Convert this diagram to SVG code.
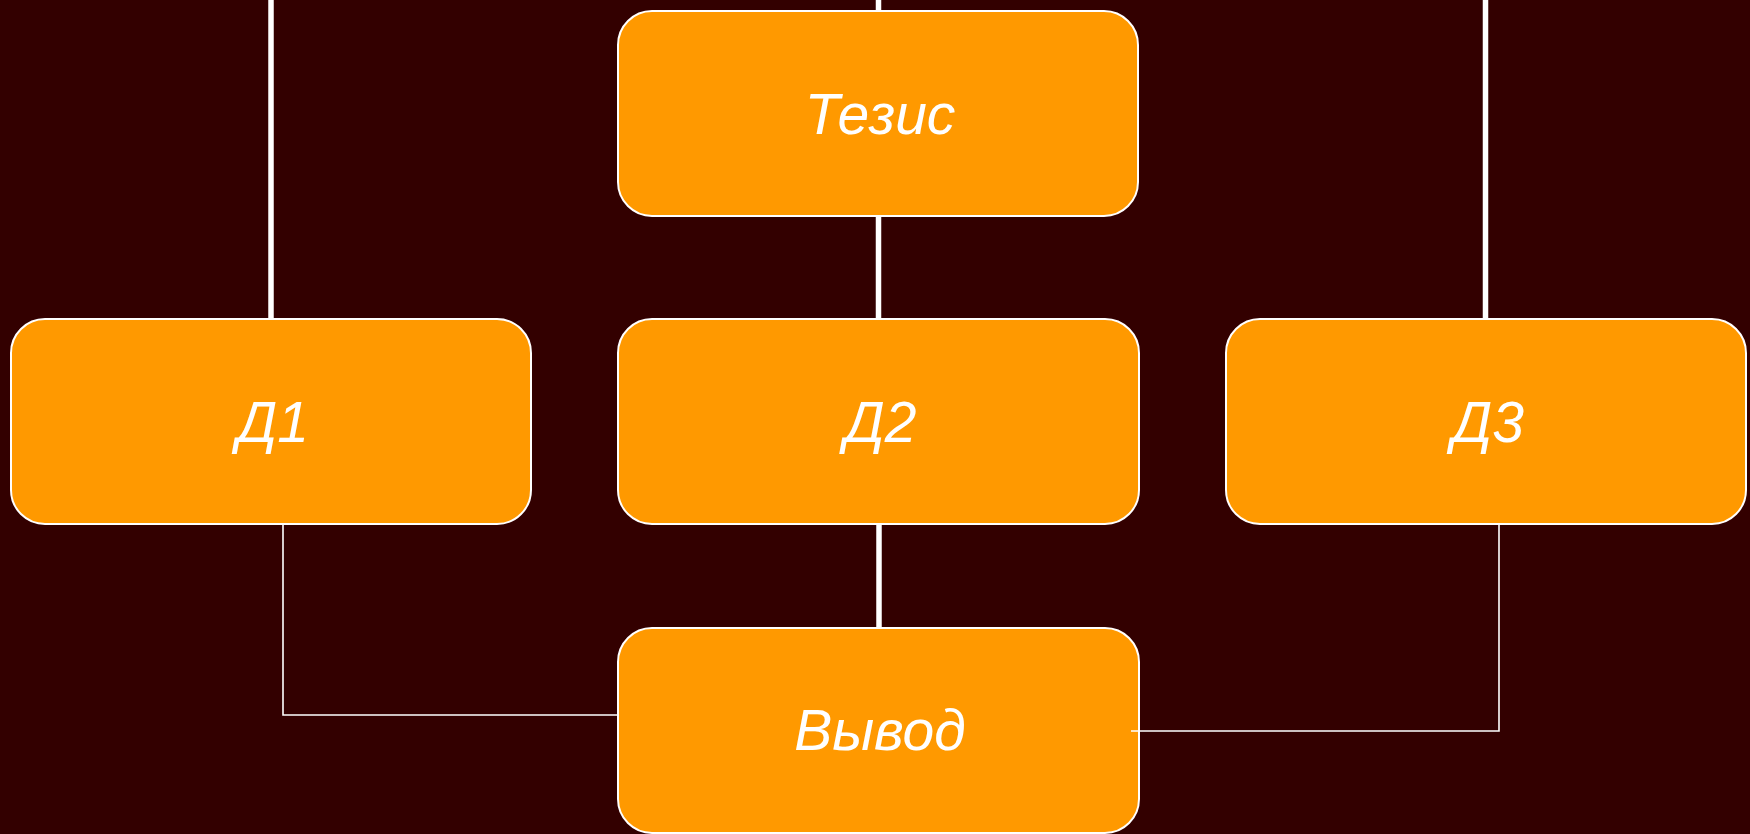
<svg xmlns="http://www.w3.org/2000/svg" width="1750" height="834" viewBox="0 0 1750 834">
  <style>
    .box { fill: #FF9900; stroke: #FFFFFF; stroke-width: 2; }
    .lbl { font-family: "Liberation Sans", Arial, sans-serif; font-style: italic; font-size: 57px; fill: #FFFFFF; text-anchor: middle; }
    .thick { stroke: #FFFFFF; stroke-width: 5.5; fill: none; }
    .thin { stroke: #FFFFFF; stroke-width: 1.6; fill: none; }
  </style>
  <rect x="0" y="0" width="1750" height="834" fill="#330000"/>
  <g id="connectors">
    <line class="thick" x1="271" y1="0" x2="271" y2="319"/>
    <line class="thick" x1="878.5" y1="0" x2="878.5" y2="11"/>
    <line class="thick" x1="1485.5" y1="0" x2="1485.5" y2="319"/>
    <line class="thick" x1="878.5" y1="216" x2="878.5" y2="319"/>
    <line class="thick" x1="879" y1="524" x2="879" y2="628"/>
  </g>
  <g id="node-tezis">
    <rect class="box" x="618" y="11" width="520" height="205" rx="34" ry="34"/>
    <text class="lbl" x="880" y="134">Тезис</text>
  </g>
  <g id="node-d1">
    <rect class="box" x="11" y="319" width="520" height="205" rx="34" ry="34"/>
    <text class="lbl" x="273" y="442">Д1</text>
  </g>
  <g id="node-d2">
    <rect class="box" x="618" y="319" width="521" height="205" rx="34" ry="34"/>
    <text class="lbl" x="880.5" y="442">Д2</text>
  </g>
  <g id="node-d3">
    <rect class="box" x="1226" y="319" width="520" height="205" rx="34" ry="34"/>
    <text class="lbl" x="1488" y="442">Д3</text>
  </g>
  <g id="node-vyvod">
    <rect class="box" x="618" y="628" width="521" height="205" rx="34" ry="34"/>
    <text class="lbl" x="880" y="750">Вывод</text>
  </g>
  <g id="connectors-thin">
    <polyline class="thin" points="283,523 283,715 618,715"/>
    <polyline class="thin" points="1499,523 1499,731 1131,731"/>
  </g>
</svg>
